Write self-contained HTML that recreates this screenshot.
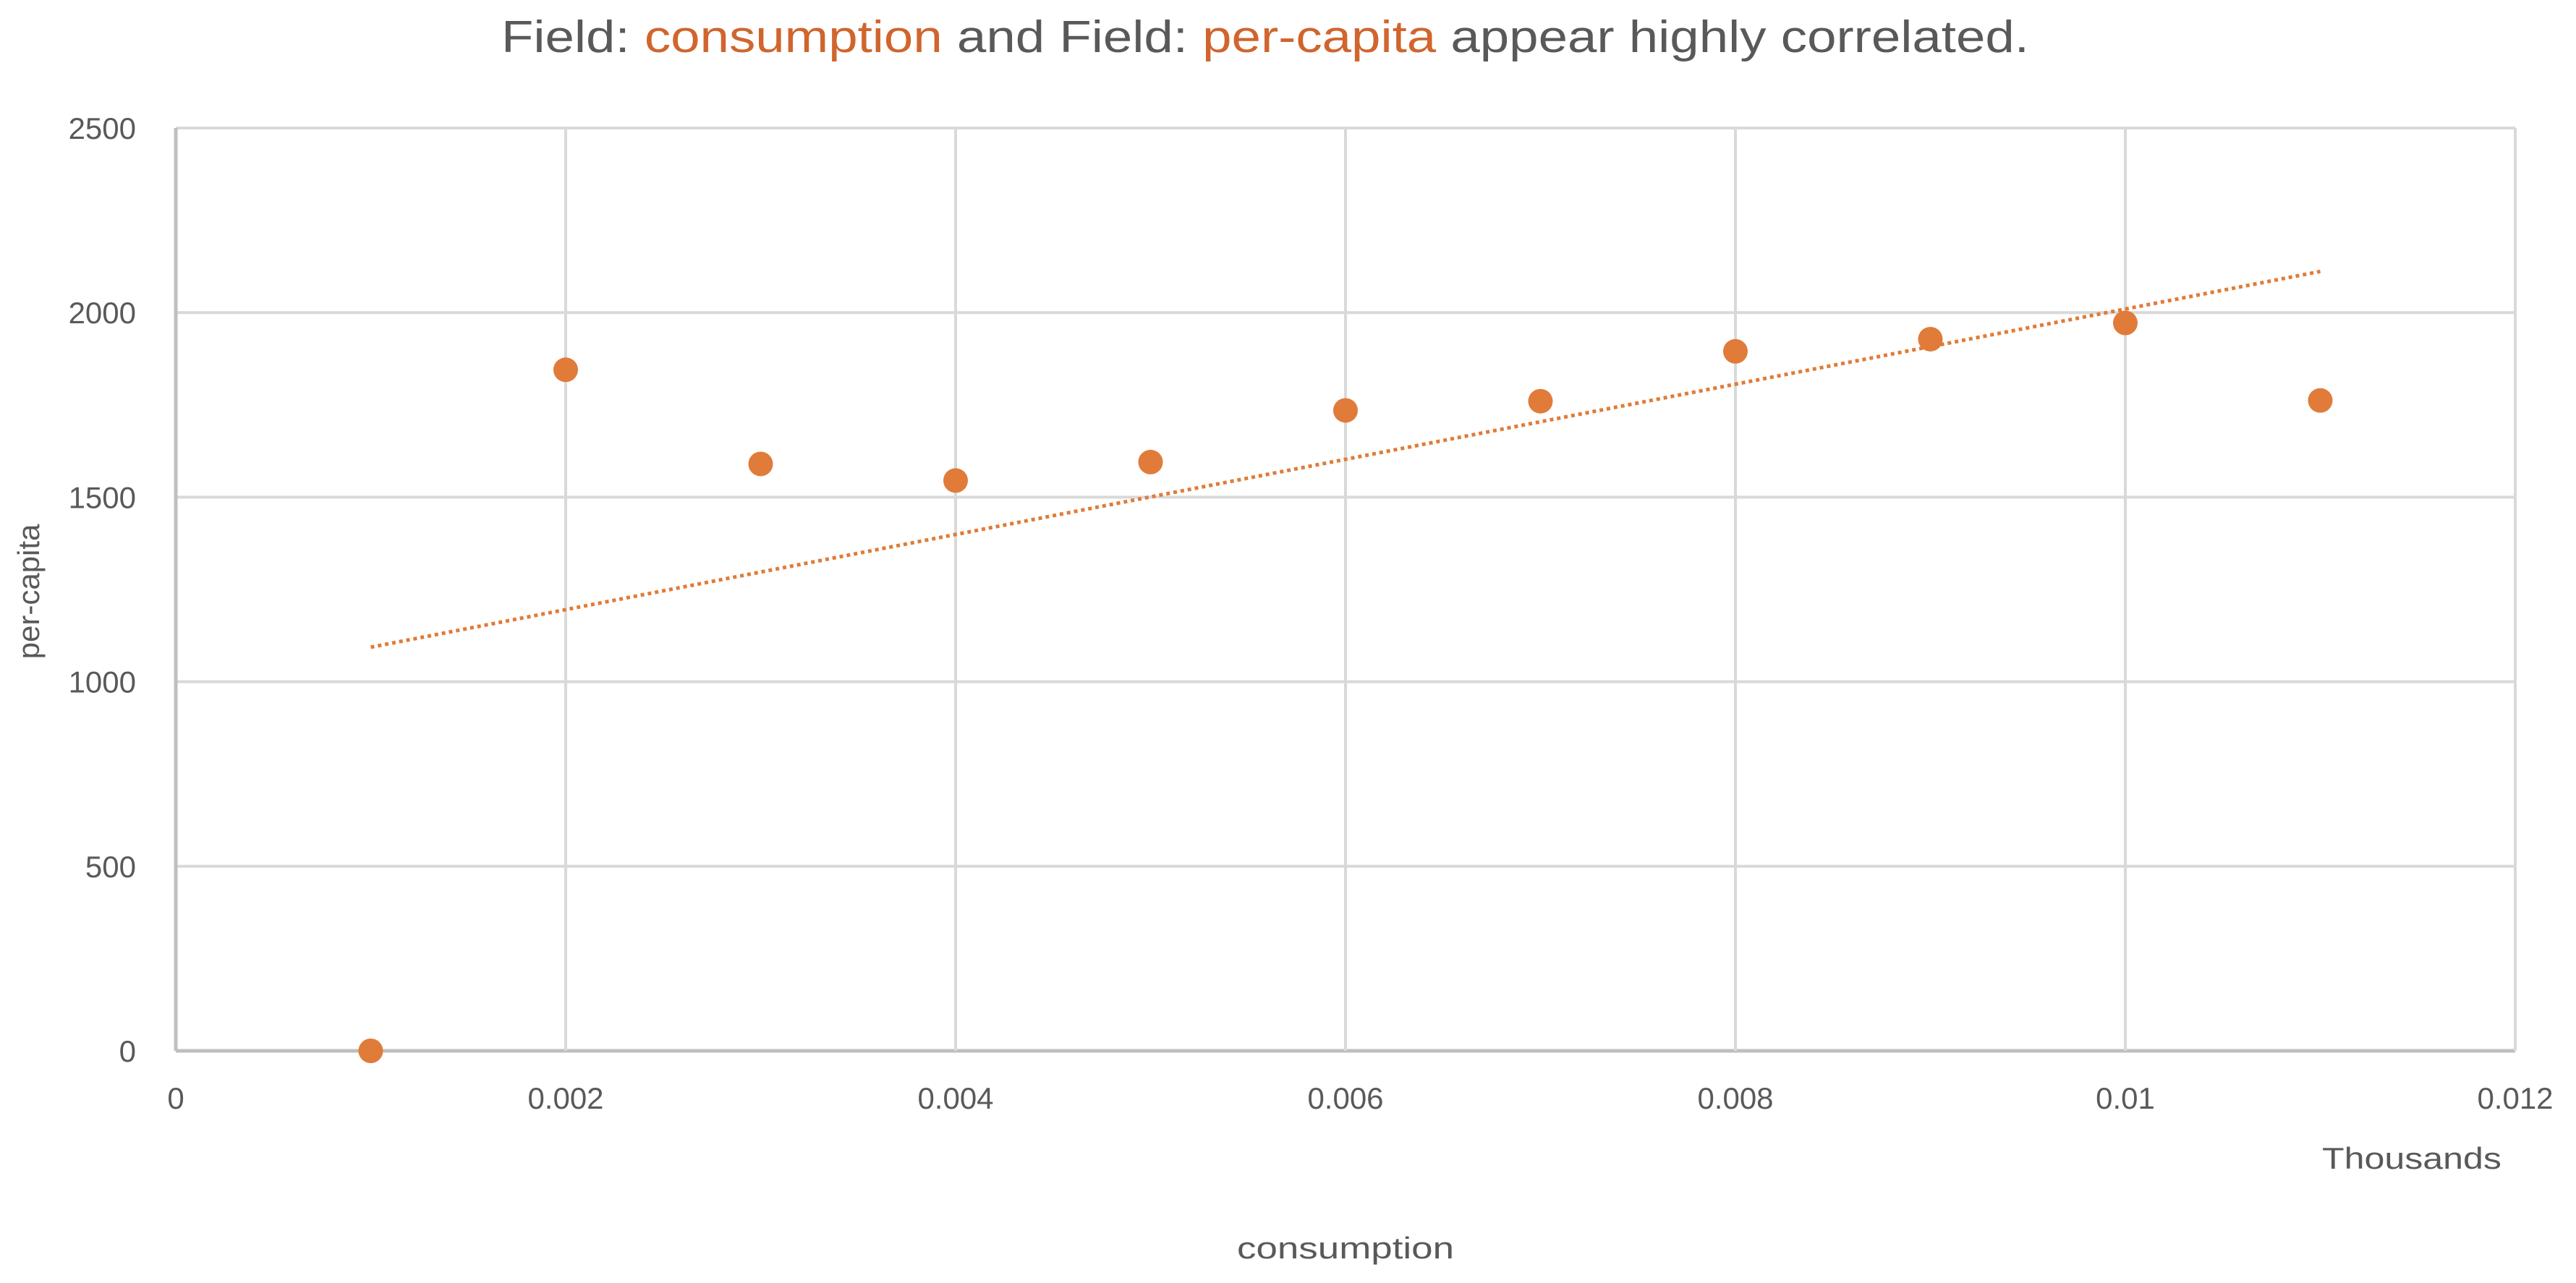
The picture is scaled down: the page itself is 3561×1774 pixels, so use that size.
<!DOCTYPE html>
<html><head><meta charset="utf-8"><style>
html,body{margin:0;padding:0;background:#fff;}
svg{display:block;font-family:"Liberation Sans",sans-serif;}
</style></head><body>
<svg id="chart" width="3561" height="1774" viewBox="0 0 3561 1774">
<text x="1749" y="72" text-anchor="middle" font-size="62" fill="#595959" textLength="2112" lengthAdjust="spacingAndGlyphs">Field: <tspan fill="#D0652E">consumption</tspan> and Field: <tspan fill="#D0652E">per-capita</tspan> appear highly correlated.</text>
<g id="grid"></g>
<g id="trend"></g>
<g id="points"></g>
<g id="labels"></g>
<text x="3334" y="1616" text-anchor="middle" font-size="42" fill="#595959" textLength="248" lengthAdjust="spacingAndGlyphs">Thousands</text>
<text x="1860" y="1740" text-anchor="middle" font-size="42" fill="#595959" textLength="300" lengthAdjust="spacingAndGlyphs">consumption</text>
<text transform="translate(54,818) rotate(-90)" text-anchor="middle" font-size="42" fill="#595959">per-capita</text>
</svg>
<script>
const xValues=[0.001,0.002,0.003,0.004,0.005,0.006,0.007,0.008,0.009,0.010,0.011];
const yValues=[0,1845,1590,1545,1595,1735,1760,1895,1928,1972,1762];
const xTicks=[0,0.002,0.004,0.006,0.008,0.01,0.012];
const yTicks=[0,500,1000,1500,2000,2500];
const L=243,R=3477,T=177,B=1453;
const xs=v=>L+(v-0)/(0.012)*(R-L);
const ys=v=>B-(v/2500)*(B-T);
const NS="http://www.w3.org/2000/svg";
function mk(t,a,p){const e=document.createElementNS(NS,t);for(const k in a)e.setAttribute(k,a[k]);p.appendChild(e);return e;}
const grid=document.getElementById('grid'),lab=document.getElementById('labels');
yTicks.forEach(v=>{
 const l=mk('line',{x1:L,x2:R,y1:ys(v),y2:ys(v),stroke:v===0?'#bfbfbf':'#d9d9d9','stroke-width':v===0?5:4},grid);
 
 
 const t=mk('text',{x:188,y:ys(v)+15,'text-anchor':'end','font-size':42,fill:'#595959'},lab);
 t.textContent=String(v);
 
 
});
xTicks.forEach(v=>{
 const l=mk('line',{x1:xs(v),x2:xs(v),y1:T,y2:B,stroke:v===0?'#bfbfbf':'#d9d9d9','stroke-width':v===0?5:4},grid);
 
 
 const t=mk('text',{x:xs(v),y:1533,'text-anchor':'middle','font-size':42,fill:'#595959'},lab);
 t.textContent=String(v);
 
 
});
const n=xValues.length,mx=xValues.reduce((a,b)=>a+b)/n,my=yValues.reduce((a,b)=>a+b)/n;
let sxy=0,sxx=0;xValues.forEach((x,i)=>{sxy+=(x-mx)*(yValues[i]-my);sxx+=(x-mx)*(x-mx);});
const m=sxy/sxx,b=my-m*mx;
const x0=Math.min(...xValues),x1=Math.max(...xValues);
const tl=mk('line',{x1:xs(x0),y1:ys(m*x0+b),x2:xs(x1),y2:ys(m*x1+b),stroke:'#E07B39','stroke-width':5,'stroke-dasharray':'5 5'},document.getElementById('trend'));


const pts=document.getElementById('points');
xValues.forEach((x,i)=>{
 const c=mk('circle',{cx:xs(x),cy:ys(yValues[i]),r:17,fill:'#E07B39'},pts);
 
 
});
</script>
</body></html>
